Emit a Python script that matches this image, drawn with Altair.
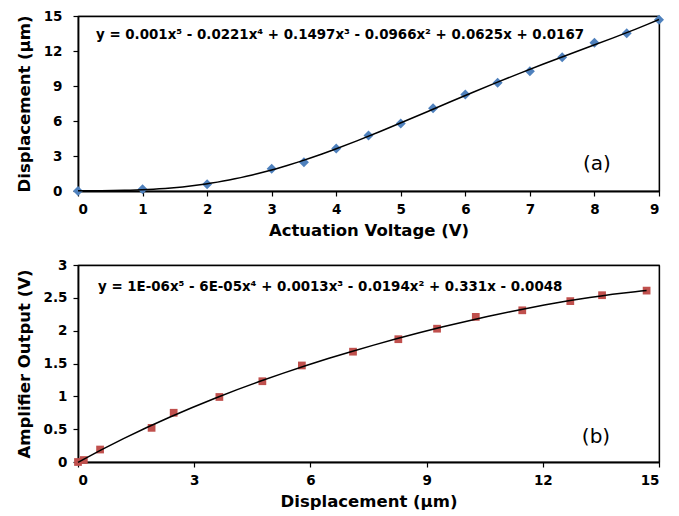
import altair as alt
import pandas as pd

# ---- data ----
voltage = [0, 1, 2, 3, 3.5, 4, 4.5, 5, 5.5, 6, 6.5, 7, 7.5, 8, 8.5, 9]
displacement = [0, 0.15, 0.57, 1.9, 2.47, 3.65, 4.76, 5.78, 7.1, 8.27, 9.27, 10.27, 11.47, 12.71, 13.53, 14.68]
amplifier = [0, 0.03, 0.19, 0.52, 0.75, 0.99, 1.23, 1.47, 1.68, 1.87, 2.03, 2.21, 2.31, 2.45, 2.54, 2.61]

ticks_voltage = [0, 1, 2, 3, 4, 5, 6, 7, 8, 9]
ticks_disp = [0, 3, 6, 9, 12, 15]
ticks_amp = [0, 0.5, 1, 1.5, 2, 2.5, 3]

eq_a_text = "y = 0.001x\u2075 - 0.0221x\u2074 + 0.1497x\u00b3 - 0.0966x\u00b2 + 0.0625x + 0.0167"
eq_b_text = "y = 1E-06x\u2075 - 6E-05x\u2074 + 0.0013x\u00b3 - 0.0194x\u00b2 + 0.331x - 0.0048"

FONT = "DejaVu Sans"
W = 581
HA = 175
HB = 197

df = pd.DataFrame({"voltage": voltage, "displacement": displacement, "amplifier": amplifier})


def label(text, x, y, size, weight, align="left"):
    return alt.Chart(pd.DataFrame({"t": [text]})).mark_text(
        font=FONT, fontSize=size, fontWeight=weight, align=align, baseline="middle", color="black"
    ).encode(text="t:N", x=alt.value(x), y=alt.value(y))


def mirror(xfield, yfield, xvals, yvals, xdom, ydom):
    # top and right frame lines drawn as mirrored axes (domain only)
    return alt.Chart(df).mark_point(opacity=0).encode(
        x=alt.X(xfield, scale=alt.Scale(domain=xdom, nice=False),
                axis=alt.Axis(orient="top", values=xvals, labels=False, ticks=False, title=None,
                              domainWidth=1.3)),
        y=alt.Y(yfield, scale=alt.Scale(domain=ydom, nice=False),
                axis=alt.Axis(orient="right", values=yvals, labels=False, ticks=False, title=None,
                              domainWidth=1.3)),
    )


# ---- panel (a) ----
xa = alt.X("voltage:Q", scale=alt.Scale(domain=[0, 9], nice=False),
           axis=alt.Axis(values=ticks_voltage, format="~g", title="Actuation Voltage (V)"))
ya = alt.Y("displacement:Q", scale=alt.Scale(domain=[0, 15], nice=False),
           axis=alt.Axis(values=ticks_disp, format="~g", title="Displacement (\u00b5m)", labelPadding=11))
xa0 = alt.X("voltage:Q", scale=alt.Scale(domain=[0, 9], nice=False), axis=None)
ya0 = alt.Y("displacement:Q", scale=alt.Scale(domain=[0, 15], nice=False), axis=None)

pts_a = alt.Chart(df).mark_point(shape="diamond", filled=True, size=100, color="#4F81BD", opacity=1).encode(x=xa, y=ya)
fit_a = alt.Chart(df).transform_regression(
    "voltage", "displacement", method="poly", order=5, extent=[0, 9]
).mark_line(color="black", strokeWidth=1.5).encode(x=xa0, y=ya0)

panel_a = alt.layer(
    mirror("voltage:Q", "displacement:Q", ticks_voltage, ticks_disp, [0, 9], [0, 15]),
    pts_a, fit_a,
    label(eq_a_text, 18, 19, 13.4, "bold"),
    label("(a)", 519, 148, 20, "normal", "center"),
).resolve_axis(x="independent", y="independent").properties(width=W, height=HA)

# ---- panel (b) ----
xb = alt.X("displacement:Q", scale=alt.Scale(domain=[0, 15], nice=False),
           axis=alt.Axis(values=ticks_disp, format="~g", title="Displacement (\u00b5m)"))
yb = alt.Y("amplifier:Q", scale=alt.Scale(domain=[0, 3], nice=False),
           axis=alt.Axis(values=ticks_amp, format="~g", title="Amplifier Output (V)", labelPadding=6))
xb0 = alt.X("displacement:Q", scale=alt.Scale(domain=[0, 15], nice=False), axis=None)
yb0 = alt.Y("amplifier:Q", scale=alt.Scale(domain=[0, 3], nice=False), axis=None)

pts_b = alt.Chart(df).mark_point(shape="square", filled=True, size=60, color="#C0504D", opacity=1).encode(x=xb, y=yb)
fit_b = alt.Chart(df).transform_regression(
    "displacement", "amplifier", method="poly", order=5, extent=[0, 14.68]
).mark_line(color="black", strokeWidth=1.5).encode(x=xb0, y=yb0)

panel_b = alt.layer(
    mirror("displacement:Q", "amplifier:Q", ticks_disp, ticks_amp, [0, 15], [0, 3]),
    pts_b, fit_b,
    label(eq_b_text, 20, 22, 13.4, "bold"),
    label("(b)", 518, 172, 20, "normal", "center"),
).resolve_axis(x="independent", y="independent").properties(width=W, height=HB)

chart = alt.vconcat(panel_a, panel_b, spacing=17).properties(
    padding={"left": 7, "top": 0, "right": 5, "bottom": 0},
    background="white",
).configure_axis(
    labelFont=FONT, labelFontSize=13.5, labelFontWeight="bold", labelColor="black",
    titleFont=FONT, titleFontSize=16.5, titleFontWeight="bold", titleColor="black",
    domainColor="black", domainWidth=1.8, tickColor="black", tickWidth=1.2, tickSize=5,
    grid=False, labelPadding=6, titlePadding=7, labelOverlap=False,
).configure_axisLeft(
    minExtent=38, maxExtent=38, titlePadding=8,
).configure_axisRight(
    minExtent=0, maxExtent=0,
).configure_axisTop(
    minExtent=0, maxExtent=0,
).configure_view(
    stroke="black", strokeWidth=1.2,
)

chart.save("out.html", embed_options={"renderer": "svg", "actions": False})
